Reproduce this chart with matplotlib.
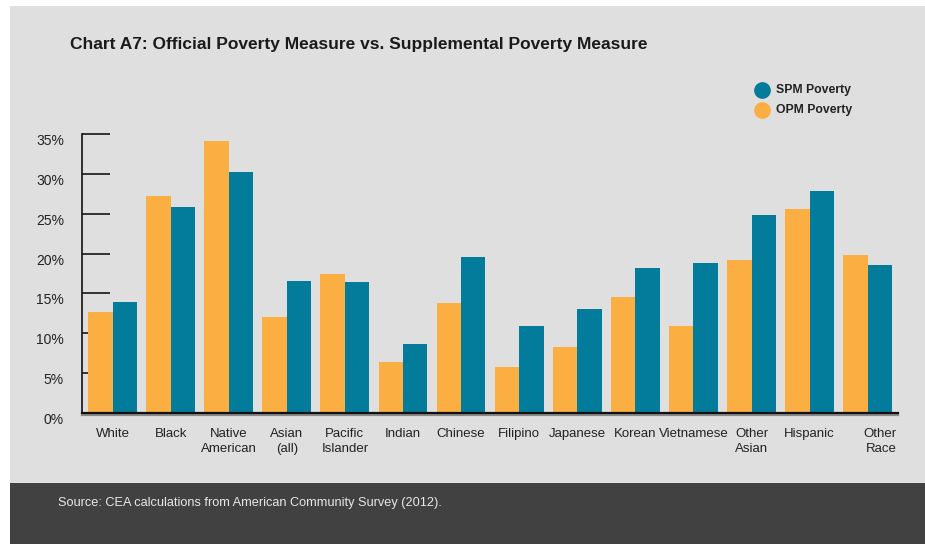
import matplotlib
matplotlib.use("Agg")
import matplotlib.pyplot as plt
import matplotlib.transforms as mtransforms
from matplotlib.patches import Rectangle
from matplotlib.lines import Line2D
import numpy as np

# data (percent)
groups = ["White", "Black", "Native\nAmerican", "Asian\n(all)", "Pacific\nIslander",
          "Indian", "Chinese", "Filipino", "Japanese", "Korean", "Vietnamese",
          "Other\nAsian", "Hispanic", "Other\nRace"]
opm = [12.7, 27.2, 34.1, 12.0, 17.4, 6.4, 13.8, 5.8, 8.3, 14.6, 10.9, 19.2, 25.6, 19.8]
spm = [13.9, 25.8, 30.2, 16.6, 16.4, 8.7, 19.6, 10.9, 13.0, 18.2, 18.8, 24.8, 27.9, 18.6]
yticks = [0, 5, 10, 15, 20, 25, 30, 35]

ORANGE = "#FBAE42"
TEAL = "#037B9B"
BG = "#DFDFDF"
FOOT = "#414141"

plt.rcParams['font.family'] = ['Liberation Sans', 'DejaVu Sans']

W, H = 925, 544
fig = plt.figure(figsize=(W / 100, H / 100), dpi=100)
fig.patch.set_facecolor("white")

# grey panel and dark footer band, kept behind the axes
fig.add_artist(Rectangle((10 / W, (H - 483) / H), 1 - 10 / W, (483 - 6) / H,
                         transform=fig.transFigure, facecolor=BG, edgecolor="none", zorder=-2))
fig.add_artist(Rectangle((10 / W, 0), 1 - 10 / W, (H - 483) / H,
                         transform=fig.transFigure, facecolor=FOOT, edgecolor="none", zorder=-2))

ax = fig.add_axes([82 / W, 1 - 413 / H, (898 - 82) / W, (413 - 134) / H])
ax.set_facecolor("none")
ax.set_zorder(1)

x = np.arange(len(groups))
bw = 0.42
ax.bar(x - bw / 2, opm, bw, color=ORANGE, zorder=2)
ax.bar(x + bw / 2, spm, bw, color=TEAL, zorder=2)

ax.set_xlim(-0.525, 13.52)
ax.set_ylim(0, 35)

for s in ["top", "right"]:
    ax.spines[s].set_visible(False)
ax.spines["left"].set_color("#111111")
ax.spines["left"].set_linewidth(1.2)
ax.spines["bottom"].set_color("#111111")
ax.spines["bottom"].set_linewidth(1.6)
ax.spines["bottom"].set_zorder(4)
# soft grey shadow under the baseline
ax.add_line(Line2D([0, 1], [-0.006, -0.006], transform=ax.transAxes, color="#8a8a8a",
                   lw=1.6, clip_on=False, zorder=3))

ax.set_yticks(yticks)
ax.set_yticklabels([f"{v}%" for v in yticks], fontsize=10, color="#222222")
ax.tick_params(axis="y", direction="in", length=20, width=1.4, color="#333333", pad=13)
for lab in ax.get_yticklabels():
    lab.set_transform(lab.get_transform() + mtransforms.ScaledTranslation(0, -4 / 72, fig.dpi_scale_trans))

ax.set_xticks(x)
ax.set_xticklabels(groups, fontsize=9.5, color="#222222", linespacing=1.25)
ax.tick_params(axis="x", length=0, pad=11)
last = ax.get_xticklabels()[-1]
last.set_horizontalalignment("right")
last.set_multialignment("right")
last.set_transform(last.get_transform() + mtransforms.ScaledTranslation(29 / 100, 0, fig.dpi_scale_trans))

# title
fig.text(70 / W, 1 - 45 / H, "Chart A7: Official Poverty Measure vs. Supplemental Poverty Measure",
         fontsize=12.5, fontweight="bold", color="#1a1a1a", va="center", ha="left")

# legend
for yy, col, name in [(90, TEAL, "SPM Poverty"), (110, ORANGE, "OPM Poverty")]:
    fig.add_artist(Line2D([762 / W], [1 - yy / H], marker="o", markersize=11, color=col,
                          linestyle="none", transform=fig.transFigure))
    fig.text(776 / W, 1 - yy / H, name, fontsize=8.8, fontweight="bold", color="#222222",
             va="center", ha="left")

# source note
fig.text(58 / W, 1 - 503 / H, "Source: CEA calculations from American Community Survey (2012).",
         fontsize=9.2, color="#e8e8e8", va="center", ha="left")

fig.savefig("out.png", dpi=100, facecolor=fig.get_facecolor())
